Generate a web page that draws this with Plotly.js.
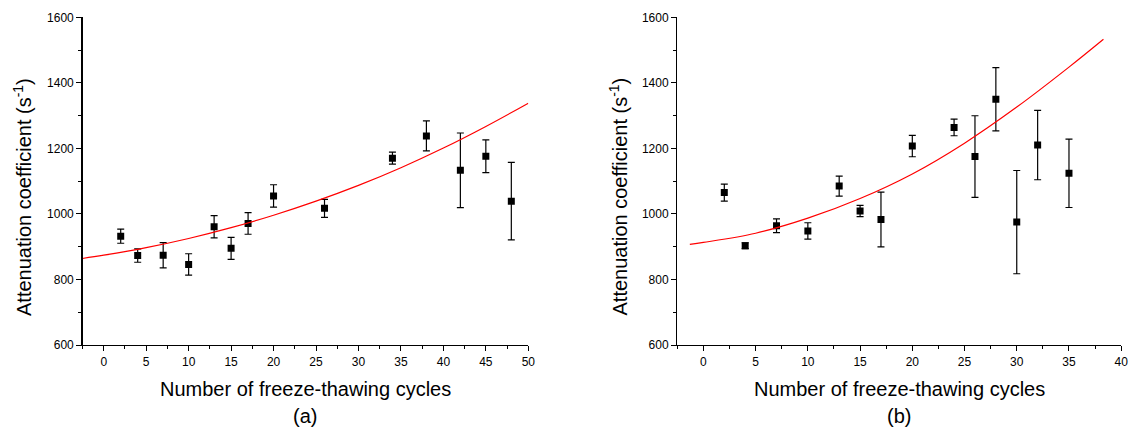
<!DOCTYPE html>
<html>
<head>
<meta charset="utf-8">
<script src="https://cdn.plot.ly/plotly-3.0.1.min.js"></script>
<style>
  html, body { margin: 0; padding: 0; background: #ffffff; }
  #chart { width: 1131px; height: 428px; }
</style>
</head>
<body>
<div id="chart"></div>
<script>
// ---- Panel (a) data ----
const cyclesA = [2, 4, 7, 10, 13, 15, 17, 20, 26, 34, 38, 42, 45, 48];
const attenA  = [932, 873, 874, 846, 961, 895, 971, 1055, 1017, 1170, 1238, 1133, 1176, 1039];
const errA    = [21.5, 20.5, 38.5, 32.5, 34, 33.5, 33, 34, 27.5, 18.3, 45.8, 114, 50, 118.5];
const fitXA   = [-2.5, 0, 5, 10, 15, 20, 25, 30, 35, 40, 45, 50];
const fitYA   = [864, 874, 897, 925, 958, 996, 1039, 1087, 1141, 1201, 1267, 1338];

// ---- Panel (b) data ----
const cyclesB = [2, 4, 7, 10, 13, 15, 17, 20, 24, 26, 28, 30, 32, 35];
const attenB  = [1065, 903, 964, 948, 1085, 1009, 983, 1207, 1264, 1175, 1350, 975, 1210, 1124];
const errB    = [26, 9, 21, 25, 30.5, 17, 83.5, 32.5, 25.5, 124.5, 96.5, 157.5, 105.8, 104.4];
const fitXB   = [-1.3, 0, 5, 10, 15, 20, 25, 30, 35, 38.3];
const fitYB   = [907, 913, 941, 987, 1047, 1122, 1216, 1326, 1448, 1533];

// ---- Text ----
const xTitle = 'Number of freeze-thawing cycles';
const yTitle = 'Attenuation coefficient (s<sup>-1</sup>)';
const panelLabels = ['(a)', '(b)'];

const FONT = 'Liberation Sans, Arial, Helvetica, sans-serif';

function pointsTrace(x, y, err, xa, ya) {
  return {
    x: x, y: y, xaxis: xa, yaxis: ya,
    type: 'scatter', mode: 'markers',
    marker: { symbol: 'square', size: 7, color: '#000000' },
    error_y: { type: 'data', array: err, visible: true, color: '#000000', thickness: 1.2, width: 3.5 },
    showlegend: false, hoverinfo: 'x+y'
  };
}
function fitTrace(x, y, xa, ya) {
  return {
    x: x, y: y, xaxis: xa, yaxis: ya,
    type: 'scatter', mode: 'lines',
    line: { color: '#ff0000', width: 1.2, shape: 'spline', smoothing: 1 },
    showlegend: false, hoverinfo: 'skip'
  };
}

const data = [
  pointsTrace(cyclesA, attenA, errA, 'x', 'y'),
  fitTrace(fitXA, fitYA, 'x', 'y'),
  pointsTrace(cyclesB, attenB, errB, 'x2', 'y2'),
  fitTrace(fitXB, fitYB, 'x2', 'y2')
];

function xAxis(domain, range, anchor) {
  return {
    domain: domain, range: range, anchor: anchor,
    tick0: 0, dtick: 5, ticks: 'outside', ticklen: 5, tickwidth: 1, tickcolor: '#000',
    minor: { dtick: 2.5, ticks: 'outside', ticklen: 3, tickwidth: 1, tickcolor: '#000' },
    showline: true, linecolor: '#000', linewidth: 1.3,
    showgrid: false, zeroline: false,
    tickfont: { family: FONT, size: 12, color: '#000' }
  };
}
function yAxis(domain, anchor) {
  return {
    domain: domain, range: [600, 1600], anchor: anchor,
    tick0: 600, dtick: 200, ticks: 'outside', ticklen: 5, tickwidth: 1, tickcolor: '#000',
    minor: { dtick: 100, ticks: 'outside', ticklen: 3, tickwidth: 1, tickcolor: '#000' },
    showline: true, linecolor: '#000', linewidth: 1.3,
    showgrid: false, zeroline: false,
    tickfont: { family: FONT, size: 12, color: '#000' }
  };
}

const W = 1131, H = 428;
const yDom = [1 - 345 / H, 1 - 17.3 / H];

const layout = {
  width: W, height: H,
  margin: { l: 0, r: 0, t: 0, b: 0 },
  paper_bgcolor: '#ffffff', plot_bgcolor: '#ffffff',
  font: { family: FONT, color: '#000' },
  xaxis: xAxis([82.5 / W, 528.3 / W], [-2.5, 50], 'y'),
  yaxis: yAxis(yDom, 'x'),
  xaxis2: xAxis([677.3 / W, 1121.2 / W], [-2.5, 40], 'y2'),
  yaxis2: yAxis(yDom, 'x2'),
  annotations: [
    { text: xTitle, xref: 'paper', yref: 'paper', x: 305.4 / W, y: 1 - 389 / H,
      xanchor: 'center', yanchor: 'middle', showarrow: false, font: { family: FONT, size: 20, color: '#000' } },
    { text: panelLabels[0], xref: 'paper', yref: 'paper', x: 305.4 / W, y: 1 - 415.5 / H,
      xanchor: 'center', yanchor: 'middle', showarrow: false, font: { family: FONT, size: 20, color: '#000' } },
    { text: yTitle, xref: 'paper', yref: 'paper', x: 22 / W, y: 1 - 197 / H, textangle: -90,
      xanchor: 'center', yanchor: 'middle', showarrow: false, font: { family: FONT, size: 20, color: '#000' } },
    { text: xTitle, xref: 'paper', yref: 'paper', x: 899.3 / W, y: 1 - 389 / H,
      xanchor: 'center', yanchor: 'middle', showarrow: false, font: { family: FONT, size: 20, color: '#000' } },
    { text: panelLabels[1], xref: 'paper', yref: 'paper', x: 899.3 / W, y: 1 - 415.5 / H,
      xanchor: 'center', yanchor: 'middle', showarrow: false, font: { family: FONT, size: 20, color: '#000' } },
    { text: yTitle, xref: 'paper', yref: 'paper', x: 617.5 / W, y: 1 - 197 / H, textangle: -90,
      xanchor: 'center', yanchor: 'middle', showarrow: false, font: { family: FONT, size: 20, color: '#000' } }
  ]
};

Plotly.newPlot('chart', data, layout, { displayModeBar: false, staticPlot: true });
</script>
</body>
</html>
